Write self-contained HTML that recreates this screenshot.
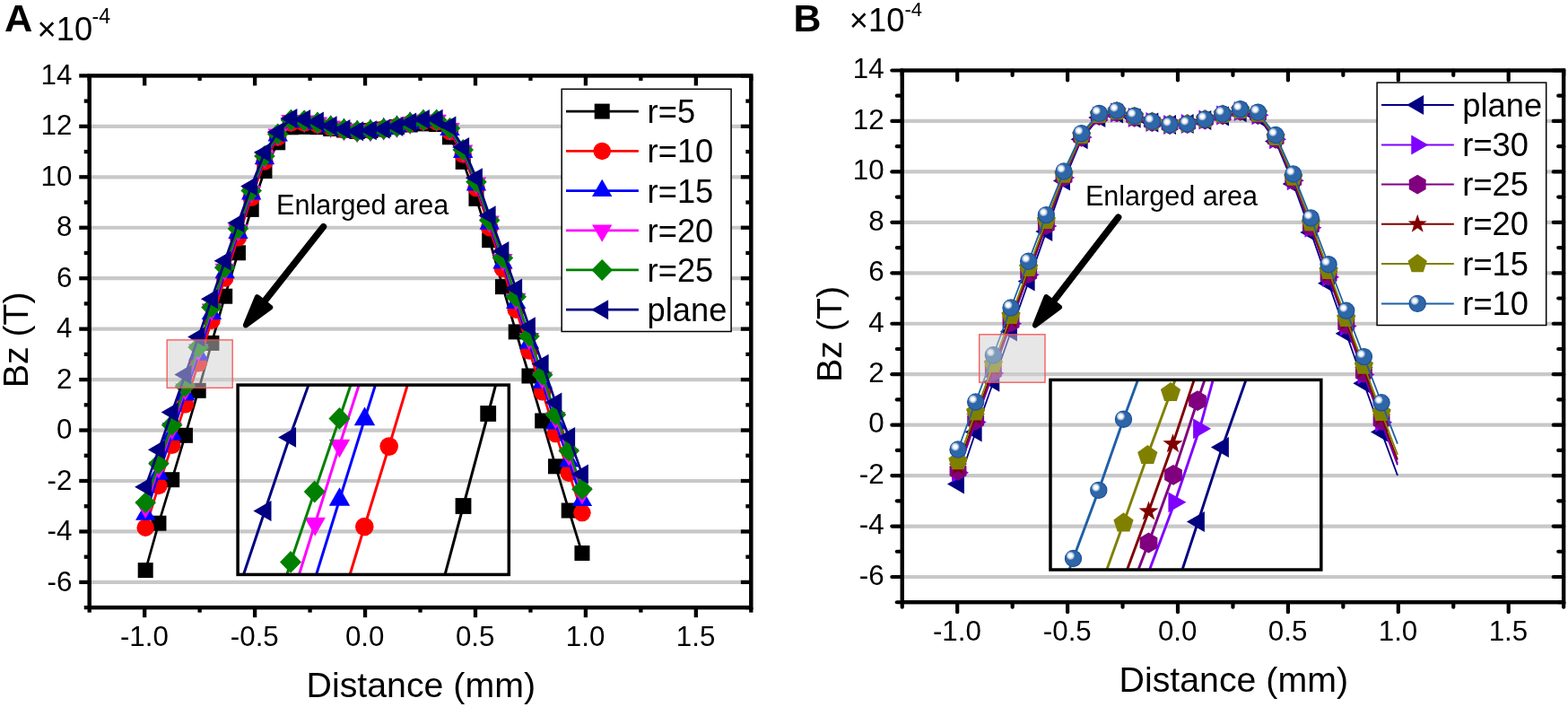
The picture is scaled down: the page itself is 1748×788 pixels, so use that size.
<!DOCTYPE html>
<html lang="en">
<head>
<meta charset="utf-8">
<title>Bz distribution</title>
<style>
html,body{margin:0;padding:0;background:#fff;}
body{width:1748px;height:788px;overflow:hidden;}
svg{display:block;}
text{font-family:"Liberation Sans",sans-serif;}
</style>
</head>
<body>
<svg width="1748" height="788" viewBox="0 0 1748 788" role="img" aria-label="Bz versus distance, panels A and B">
<defs>
<radialGradient id="hl" cx="0.5" cy="0.5" r="0.5">
<stop offset="0" stop-color="#ffffff" stop-opacity="1"/>
<stop offset="0.38" stop-color="#ffffff" stop-opacity="1"/>
<stop offset="0.75" stop-color="#ffffff" stop-opacity="0.55"/>
<stop offset="1" stop-color="#ffffff" stop-opacity="0"/>
</radialGradient>

<clipPath id="clipA"><rect x="263.2" y="427.2" width="305.9" height="215.0"/></clipPath>
<clipPath id="clipB"><rect x="1169.2" y="421.6" width="305.4" height="215.2"/></clipPath>
</defs>
<rect x="0" y="0" width="1748" height="788" fill="#ffffff"/>

<!-- Panel A -->
<line x1="99.70" x2="837.31" y1="648.90" y2="648.90" stroke="#c8c8c8" stroke-width="4.2"/>
<line x1="99.70" x2="837.31" y1="592.45" y2="592.45" stroke="#c8c8c8" stroke-width="4.2"/>
<line x1="99.70" x2="837.31" y1="536.00" y2="536.00" stroke="#c8c8c8" stroke-width="4.2"/>
<line x1="99.70" x2="837.31" y1="479.55" y2="479.55" stroke="#c8c8c8" stroke-width="4.2"/>
<line x1="99.70" x2="837.31" y1="423.10" y2="423.10" stroke="#c8c8c8" stroke-width="4.2"/>
<line x1="99.70" x2="837.31" y1="366.65" y2="366.65" stroke="#c8c8c8" stroke-width="4.2"/>
<line x1="99.70" x2="837.31" y1="310.20" y2="310.20" stroke="#c8c8c8" stroke-width="4.2"/>
<line x1="99.70" x2="837.31" y1="253.75" y2="253.75" stroke="#c8c8c8" stroke-width="4.2"/>
<line x1="99.70" x2="837.31" y1="197.30" y2="197.30" stroke="#c8c8c8" stroke-width="4.2"/>
<line x1="99.70" x2="837.31" y1="140.85" y2="140.85" stroke="#c8c8c8" stroke-width="4.2"/>
<g>
<polyline points="162.20,635.60 176.95,583.20 191.70,534.70 206.45,485.30 221.20,435.30 235.95,382.40 250.70,330.20 265.45,281.80 280.20,233.40 294.95,190.50 309.70,158.80 324.45,141.80 339.20,141.40 353.95,141.70 368.70,143.50 383.45,145.00 398.20,146.50 412.95,145.50 427.70,144.00 442.45,141.50 457.20,139.00 471.95,137.90 486.70,138.50 501.45,152.80 516.20,180.40 530.95,221.40 545.70,267.70 560.45,319.60 575.20,369.90 589.95,419.00 604.70,469.00 619.45,519.80 634.20,569.00 648.95,616.50" fill="none" stroke="#000000" stroke-width="2.7" stroke-linejoin="round"/>
<rect x="153.70" y="627.10" width="17" height="17" fill="#000000"/><rect x="168.45" y="574.70" width="17" height="17" fill="#000000"/><rect x="183.20" y="526.20" width="17" height="17" fill="#000000"/><rect x="197.95" y="476.80" width="17" height="17" fill="#000000"/><rect x="212.70" y="426.80" width="17" height="17" fill="#000000"/><rect x="227.45" y="373.90" width="17" height="17" fill="#000000"/><rect x="242.20" y="321.70" width="17" height="17" fill="#000000"/><rect x="256.95" y="273.30" width="17" height="17" fill="#000000"/><rect x="271.70" y="224.90" width="17" height="17" fill="#000000"/><rect x="286.45" y="182.00" width="17" height="17" fill="#000000"/><rect x="301.20" y="150.30" width="17" height="17" fill="#000000"/><rect x="315.95" y="133.30" width="17" height="17" fill="#000000"/><rect x="330.70" y="132.90" width="17" height="17" fill="#000000"/><rect x="345.45" y="133.20" width="17" height="17" fill="#000000"/><rect x="360.20" y="135.00" width="17" height="17" fill="#000000"/><rect x="374.95" y="136.50" width="17" height="17" fill="#000000"/><rect x="389.70" y="138.00" width="17" height="17" fill="#000000"/><rect x="404.45" y="137.00" width="17" height="17" fill="#000000"/><rect x="419.20" y="135.50" width="17" height="17" fill="#000000"/><rect x="433.95" y="133.00" width="17" height="17" fill="#000000"/><rect x="448.70" y="130.50" width="17" height="17" fill="#000000"/><rect x="463.45" y="129.40" width="17" height="17" fill="#000000"/><rect x="478.20" y="130.00" width="17" height="17" fill="#000000"/><rect x="492.95" y="144.30" width="17" height="17" fill="#000000"/><rect x="507.70" y="171.90" width="17" height="17" fill="#000000"/><rect x="522.45" y="212.90" width="17" height="17" fill="#000000"/><rect x="537.20" y="259.20" width="17" height="17" fill="#000000"/><rect x="551.95" y="311.10" width="17" height="17" fill="#000000"/><rect x="566.70" y="361.40" width="17" height="17" fill="#000000"/><rect x="581.45" y="410.50" width="17" height="17" fill="#000000"/><rect x="596.20" y="460.50" width="17" height="17" fill="#000000"/><rect x="610.95" y="511.30" width="17" height="17" fill="#000000"/><rect x="625.70" y="560.50" width="17" height="17" fill="#000000"/><rect x="640.45" y="608.00" width="17" height="17" fill="#000000"/>
</g>
<g>
<polyline points="162.20,588.22 176.95,541.38 191.70,496.30 206.45,450.77 221.20,404.85 235.95,357.31 250.70,310.06 265.45,264.82 280.20,220.24 294.95,180.04 309.70,152.94 324.45,136.80 339.20,137.12 353.95,138.54 368.70,141.82 383.45,144.49 398.20,146.40 412.95,145.40 427.70,143.85 442.45,141.19 457.20,137.67 471.95,135.40 486.70,135.54 501.45,146.58 516.20,172.04 530.95,209.62 545.70,253.73 560.45,299.40 575.20,345.22 589.95,391.10 604.70,436.77 619.45,483.49 634.20,527.18 648.95,571.62" fill="none" stroke="#ff0000" stroke-width="2.7" stroke-linejoin="round"/>
<circle cx="162.20" cy="588.22" r="9.75" fill="#ff0000"/><circle cx="176.95" cy="541.38" r="9.75" fill="#ff0000"/><circle cx="191.70" cy="496.30" r="9.75" fill="#ff0000"/><circle cx="206.45" cy="450.77" r="9.75" fill="#ff0000"/><circle cx="221.20" cy="404.85" r="9.75" fill="#ff0000"/><circle cx="235.95" cy="357.31" r="9.75" fill="#ff0000"/><circle cx="250.70" cy="310.06" r="9.75" fill="#ff0000"/><circle cx="265.45" cy="264.82" r="9.75" fill="#ff0000"/><circle cx="280.20" cy="220.24" r="9.75" fill="#ff0000"/><circle cx="294.95" cy="180.04" r="9.75" fill="#ff0000"/><circle cx="309.70" cy="152.94" r="9.75" fill="#ff0000"/><circle cx="324.45" cy="136.80" r="9.75" fill="#ff0000"/><circle cx="339.20" cy="137.12" r="9.75" fill="#ff0000"/><circle cx="353.95" cy="138.54" r="9.75" fill="#ff0000"/><circle cx="368.70" cy="141.82" r="9.75" fill="#ff0000"/><circle cx="383.45" cy="144.49" r="9.75" fill="#ff0000"/><circle cx="398.20" cy="146.40" r="9.75" fill="#ff0000"/><circle cx="412.95" cy="145.40" r="9.75" fill="#ff0000"/><circle cx="427.70" cy="143.85" r="9.75" fill="#ff0000"/><circle cx="442.45" cy="141.19" r="9.75" fill="#ff0000"/><circle cx="457.20" cy="137.67" r="9.75" fill="#ff0000"/><circle cx="471.95" cy="135.40" r="9.75" fill="#ff0000"/><circle cx="486.70" cy="135.54" r="9.75" fill="#ff0000"/><circle cx="501.45" cy="146.58" r="9.75" fill="#ff0000"/><circle cx="516.20" cy="172.04" r="9.75" fill="#ff0000"/><circle cx="530.95" cy="209.62" r="9.75" fill="#ff0000"/><circle cx="545.70" cy="253.73" r="9.75" fill="#ff0000"/><circle cx="560.45" cy="299.40" r="9.75" fill="#ff0000"/><circle cx="575.20" cy="345.22" r="9.75" fill="#ff0000"/><circle cx="589.95" cy="391.10" r="9.75" fill="#ff0000"/><circle cx="604.70" cy="436.77" r="9.75" fill="#ff0000"/><circle cx="619.45" cy="483.49" r="9.75" fill="#ff0000"/><circle cx="634.20" cy="527.18" r="9.75" fill="#ff0000"/><circle cx="648.95" cy="571.62" r="9.75" fill="#ff0000"/>
</g>
<g>
<polyline points="162.20,573.36 176.95,528.26 191.70,484.25 206.45,439.94 221.20,395.30 235.95,349.44 250.70,303.74 265.45,259.49 280.20,216.11 294.95,176.76 309.70,151.09 324.45,135.23 339.20,135.77 353.95,137.55 368.70,141.29 383.45,144.33 398.20,146.37 412.95,145.37 427.70,143.80 442.45,141.10 457.20,137.26 471.95,134.62 486.70,134.61 501.45,144.63 516.20,169.41 530.95,205.92 545.70,249.34 560.45,293.07 575.20,337.47 589.95,382.35 604.70,426.66 619.45,472.10 634.20,514.06 648.95,557.54" fill="none" stroke="#0000ff" stroke-width="2.7" stroke-linejoin="round"/>
<polygon points="162.20,560.42 173.40,579.82 151.00,579.82" fill="#0000ff"/><polygon points="176.95,515.33 188.15,534.73 165.75,534.73" fill="#0000ff"/><polygon points="191.70,471.32 202.90,490.72 180.50,490.72" fill="#0000ff"/><polygon points="206.45,427.01 217.65,446.41 195.25,446.41" fill="#0000ff"/><polygon points="221.20,382.37 232.40,401.77 210.00,401.77" fill="#0000ff"/><polygon points="235.95,336.50 247.15,355.90 224.75,355.90" fill="#0000ff"/><polygon points="250.70,290.80 261.90,310.20 239.50,310.20" fill="#0000ff"/><polygon points="265.45,246.56 276.65,265.96 254.25,265.96" fill="#0000ff"/><polygon points="280.20,203.18 291.40,222.58 269.00,222.58" fill="#0000ff"/><polygon points="294.95,163.83 306.15,183.23 283.75,183.23" fill="#0000ff"/><polygon points="309.70,138.16 320.90,157.56 298.50,157.56" fill="#0000ff"/><polygon points="324.45,122.30 335.65,141.70 313.25,141.70" fill="#0000ff"/><polygon points="339.20,122.84 350.40,142.24 328.00,142.24" fill="#0000ff"/><polygon points="353.95,124.61 365.15,144.01 342.75,144.01" fill="#0000ff"/><polygon points="368.70,128.36 379.90,147.76 357.50,147.76" fill="#0000ff"/><polygon points="383.45,131.40 394.65,150.80 372.25,150.80" fill="#0000ff"/><polygon points="398.20,133.43 409.40,152.83 387.00,152.83" fill="#0000ff"/><polygon points="412.95,132.43 424.15,151.83 401.75,151.83" fill="#0000ff"/><polygon points="427.70,130.87 438.90,150.27 416.50,150.27" fill="#0000ff"/><polygon points="442.45,128.16 453.65,147.56 431.25,147.56" fill="#0000ff"/><polygon points="457.20,124.32 468.40,143.72 446.00,143.72" fill="#0000ff"/><polygon points="471.95,121.68 483.15,141.08 460.75,141.08" fill="#0000ff"/><polygon points="486.70,121.68 497.90,141.08 475.50,141.08" fill="#0000ff"/><polygon points="501.45,131.69 512.65,151.09 490.25,151.09" fill="#0000ff"/><polygon points="516.20,156.48 527.40,175.88 505.00,175.88" fill="#0000ff"/><polygon points="530.95,192.99 542.15,212.39 519.75,212.39" fill="#0000ff"/><polygon points="545.70,236.41 556.90,255.81 534.50,255.81" fill="#0000ff"/><polygon points="560.45,280.13 571.65,299.53 549.25,299.53" fill="#0000ff"/><polygon points="575.20,324.54 586.40,343.94 564.00,343.94" fill="#0000ff"/><polygon points="589.95,369.42 601.15,388.82 578.75,388.82" fill="#0000ff"/><polygon points="604.70,413.72 615.90,433.12 593.50,433.12" fill="#0000ff"/><polygon points="619.45,459.16 630.65,478.56 608.25,478.56" fill="#0000ff"/><polygon points="634.20,501.13 645.40,520.53 623.00,520.53" fill="#0000ff"/><polygon points="648.95,544.61 660.15,564.01 637.75,564.01" fill="#0000ff"/>
</g>
<g>
<polyline points="162.20,565.00 176.95,520.88 191.70,477.47 206.45,433.85 221.20,389.93 235.95,345.01 250.70,300.18 265.45,256.49 280.20,213.79 294.95,174.92 309.70,150.06 324.45,134.35 339.20,135.02 353.95,136.99 368.70,140.99 383.45,144.24 398.20,146.35 412.95,145.35 427.70,143.77 442.45,141.04 457.20,137.02 471.95,134.18 486.70,134.09 501.45,143.53 516.20,167.94 530.95,203.84 545.70,246.88 560.45,289.50 575.20,333.12 589.95,377.43 604.70,420.97 619.45,465.69 634.20,506.68 648.95,549.62" fill="none" stroke="#ff00ff" stroke-width="2.7" stroke-linejoin="round"/>
<polygon points="162.20,577.93 173.40,558.53 151.00,558.53" fill="#ff00ff"/><polygon points="176.95,533.81 188.15,514.41 165.75,514.41" fill="#ff00ff"/><polygon points="191.70,490.41 202.90,471.01 180.50,471.01" fill="#ff00ff"/><polygon points="206.45,446.78 217.65,427.38 195.25,427.38" fill="#ff00ff"/><polygon points="221.20,402.86 232.40,383.46 210.00,383.46" fill="#ff00ff"/><polygon points="235.95,357.94 247.15,338.54 224.75,338.54" fill="#ff00ff"/><polygon points="250.70,313.11 261.90,293.71 239.50,293.71" fill="#ff00ff"/><polygon points="265.45,269.43 276.65,250.03 254.25,250.03" fill="#ff00ff"/><polygon points="280.20,226.73 291.40,207.33 269.00,207.33" fill="#ff00ff"/><polygon points="294.95,187.85 306.15,168.45 283.75,168.45" fill="#ff00ff"/><polygon points="309.70,162.99 320.90,143.59 298.50,143.59" fill="#ff00ff"/><polygon points="324.45,147.29 335.65,127.89 313.25,127.89" fill="#ff00ff"/><polygon points="339.20,147.95 350.40,128.55 328.00,128.55" fill="#ff00ff"/><polygon points="353.95,149.92 365.15,130.52 342.75,130.52" fill="#ff00ff"/><polygon points="368.70,153.93 379.90,134.53 357.50,134.53" fill="#ff00ff"/><polygon points="383.45,157.17 394.65,137.77 372.25,137.77" fill="#ff00ff"/><polygon points="398.20,159.28 409.40,139.88 387.00,139.88" fill="#ff00ff"/><polygon points="412.95,158.28 424.15,138.88 401.75,138.88" fill="#ff00ff"/><polygon points="427.70,156.71 438.90,137.31 416.50,137.31" fill="#ff00ff"/><polygon points="442.45,153.98 453.65,134.58 431.25,134.58" fill="#ff00ff"/><polygon points="457.20,149.96 468.40,130.56 446.00,130.56" fill="#ff00ff"/><polygon points="471.95,147.11 483.15,127.71 460.75,127.71" fill="#ff00ff"/><polygon points="486.70,147.03 497.90,127.63 475.50,127.63" fill="#ff00ff"/><polygon points="501.45,156.46 512.65,137.06 490.25,137.06" fill="#ff00ff"/><polygon points="516.20,180.87 527.40,161.47 505.00,161.47" fill="#ff00ff"/><polygon points="530.95,216.78 542.15,197.38 519.75,197.38" fill="#ff00ff"/><polygon points="545.70,259.81 556.90,240.41 534.50,240.41" fill="#ff00ff"/><polygon points="560.45,302.44 571.65,283.04 549.25,283.04" fill="#ff00ff"/><polygon points="575.20,346.05 586.40,326.65 564.00,326.65" fill="#ff00ff"/><polygon points="589.95,390.36 601.15,370.96 578.75,370.96" fill="#ff00ff"/><polygon points="604.70,433.90 615.90,414.50 593.50,414.50" fill="#ff00ff"/><polygon points="619.45,478.62 630.65,459.22 608.25,459.22" fill="#ff00ff"/><polygon points="634.20,519.61 645.40,500.21 623.00,500.21" fill="#ff00ff"/><polygon points="648.95,562.55 660.15,543.15 637.75,543.15" fill="#ff00ff"/>
</g>
<g>
<polyline points="162.20,560.35 176.95,516.78 191.70,473.71 206.45,430.46 221.20,386.94 235.95,342.55 250.70,298.20 265.45,254.83 280.20,212.50 294.95,173.90 309.70,149.49 324.45,133.86 339.20,134.60 353.95,136.68 368.70,140.83 383.45,144.19 398.20,146.34 412.95,145.34 427.70,143.76 442.45,141.01 457.20,136.89 471.95,133.93 486.70,133.80 501.45,142.92 516.20,167.12 530.95,202.69 545.70,245.51 560.45,287.52 575.20,330.70 589.95,374.69 604.70,417.81 619.45,462.13 634.20,502.58 648.95,545.22" fill="none" stroke="#008000" stroke-width="2.7" stroke-linejoin="round"/>
<polygon points="162.20,548.35 174.00,560.35 162.20,572.35 150.40,560.35" fill="#008000"/><polygon points="176.95,504.78 188.75,516.78 176.95,528.78 165.15,516.78" fill="#008000"/><polygon points="191.70,461.71 203.50,473.71 191.70,485.71 179.90,473.71" fill="#008000"/><polygon points="206.45,418.46 218.25,430.46 206.45,442.46 194.65,430.46" fill="#008000"/><polygon points="221.20,374.94 233.00,386.94 221.20,398.94 209.40,386.94" fill="#008000"/><polygon points="235.95,330.55 247.75,342.55 235.95,354.55 224.15,342.55" fill="#008000"/><polygon points="250.70,286.20 262.50,298.20 250.70,310.20 238.90,298.20" fill="#008000"/><polygon points="265.45,242.83 277.25,254.83 265.45,266.83 253.65,254.83" fill="#008000"/><polygon points="280.20,200.50 292.00,212.50 280.20,224.50 268.40,212.50" fill="#008000"/><polygon points="294.95,161.90 306.75,173.90 294.95,185.90 283.15,173.90" fill="#008000"/><polygon points="309.70,137.49 321.50,149.49 309.70,161.49 297.90,149.49" fill="#008000"/><polygon points="324.45,121.86 336.25,133.86 324.45,145.86 312.65,133.86" fill="#008000"/><polygon points="339.20,122.60 351.00,134.60 339.20,146.60 327.40,134.60" fill="#008000"/><polygon points="353.95,124.68 365.75,136.68 353.95,148.68 342.15,136.68" fill="#008000"/><polygon points="368.70,128.83 380.50,140.83 368.70,152.83 356.90,140.83" fill="#008000"/><polygon points="383.45,132.19 395.25,144.19 383.45,156.19 371.65,144.19" fill="#008000"/><polygon points="398.20,134.34 410.00,146.34 398.20,158.34 386.40,146.34" fill="#008000"/><polygon points="412.95,133.34 424.75,145.34 412.95,157.34 401.15,145.34" fill="#008000"/><polygon points="427.70,131.76 439.50,143.76 427.70,155.76 415.90,143.76" fill="#008000"/><polygon points="442.45,129.01 454.25,141.01 442.45,153.01 430.65,141.01" fill="#008000"/><polygon points="457.20,124.89 469.00,136.89 457.20,148.89 445.40,136.89" fill="#008000"/><polygon points="471.95,121.93 483.75,133.93 471.95,145.93 460.15,133.93" fill="#008000"/><polygon points="486.70,121.80 498.50,133.80 486.70,145.80 474.90,133.80" fill="#008000"/><polygon points="501.45,130.92 513.25,142.92 501.45,154.92 489.65,142.92" fill="#008000"/><polygon points="516.20,155.12 528.00,167.12 516.20,179.12 504.40,167.12" fill="#008000"/><polygon points="530.95,190.69 542.75,202.69 530.95,214.69 519.15,202.69" fill="#008000"/><polygon points="545.70,233.51 557.50,245.51 545.70,257.51 533.90,245.51" fill="#008000"/><polygon points="560.45,275.52 572.25,287.52 560.45,299.52 548.65,287.52" fill="#008000"/><polygon points="575.20,318.70 587.00,330.70 575.20,342.70 563.40,330.70" fill="#008000"/><polygon points="589.95,362.69 601.75,374.69 589.95,386.69 578.15,374.69" fill="#008000"/><polygon points="604.70,405.81 616.50,417.81 604.70,429.81 592.90,417.81" fill="#008000"/><polygon points="619.45,450.13 631.25,462.13 619.45,474.13 607.65,462.13" fill="#008000"/><polygon points="634.20,490.58 646.00,502.58 634.20,514.58 622.40,502.58" fill="#008000"/><polygon points="648.95,533.22 660.75,545.22 648.95,557.22 637.15,545.22" fill="#008000"/>
</g>
<g>
<polyline points="162.20,542.70 176.95,501.20 191.70,459.40 206.45,417.60 221.20,375.60 235.95,333.20 250.70,290.70 265.45,248.50 280.20,207.60 294.95,170.00 309.70,147.30 324.45,132.00 339.20,133.00 353.95,135.50 368.70,140.20 383.45,144.00 398.20,146.30 412.95,145.30 427.70,143.70 442.45,140.90 457.20,136.40 471.95,133.00 486.70,132.70 501.45,140.60 516.20,164.00 530.95,198.30 545.70,240.30 560.45,280.00 575.20,321.50 589.95,364.30 604.70,405.80 619.45,448.60 634.20,487.00 648.95,528.50" fill="none" stroke="#000080" stroke-width="2.7" stroke-linejoin="round"/>
<polygon points="150.13,542.70 169.13,531.70 169.13,553.70" fill="#000080"/><polygon points="164.88,501.20 183.88,490.20 183.88,512.20" fill="#000080"/><polygon points="179.63,459.40 198.63,448.40 198.63,470.40" fill="#000080"/><polygon points="194.38,417.60 213.38,406.60 213.38,428.60" fill="#000080"/><polygon points="209.13,375.60 228.13,364.60 228.13,386.60" fill="#000080"/><polygon points="223.88,333.20 242.88,322.20 242.88,344.20" fill="#000080"/><polygon points="238.63,290.70 257.63,279.70 257.63,301.70" fill="#000080"/><polygon points="253.38,248.50 272.38,237.50 272.38,259.50" fill="#000080"/><polygon points="268.13,207.60 287.13,196.60 287.13,218.60" fill="#000080"/><polygon points="282.88,170.00 301.88,159.00 301.88,181.00" fill="#000080"/><polygon points="297.63,147.30 316.63,136.30 316.63,158.30" fill="#000080"/><polygon points="312.38,132.00 331.38,121.00 331.38,143.00" fill="#000080"/><polygon points="327.13,133.00 346.13,122.00 346.13,144.00" fill="#000080"/><polygon points="341.88,135.50 360.88,124.50 360.88,146.50" fill="#000080"/><polygon points="356.63,140.20 375.63,129.20 375.63,151.20" fill="#000080"/><polygon points="371.38,144.00 390.38,133.00 390.38,155.00" fill="#000080"/><polygon points="386.13,146.30 405.13,135.30 405.13,157.30" fill="#000080"/><polygon points="400.88,145.30 419.88,134.30 419.88,156.30" fill="#000080"/><polygon points="415.63,143.70 434.63,132.70 434.63,154.70" fill="#000080"/><polygon points="430.38,140.90 449.38,129.90 449.38,151.90" fill="#000080"/><polygon points="445.13,136.40 464.13,125.40 464.13,147.40" fill="#000080"/><polygon points="459.88,133.00 478.88,122.00 478.88,144.00" fill="#000080"/><polygon points="474.63,132.70 493.63,121.70 493.63,143.70" fill="#000080"/><polygon points="489.38,140.60 508.38,129.60 508.38,151.60" fill="#000080"/><polygon points="504.13,164.00 523.13,153.00 523.13,175.00" fill="#000080"/><polygon points="518.88,198.30 537.88,187.30 537.88,209.30" fill="#000080"/><polygon points="533.63,240.30 552.63,229.30 552.63,251.30" fill="#000080"/><polygon points="548.38,280.00 567.38,269.00 567.38,291.00" fill="#000080"/><polygon points="563.13,321.50 582.13,310.50 582.13,332.50" fill="#000080"/><polygon points="577.88,364.30 596.88,353.30 596.88,375.30" fill="#000080"/><polygon points="592.63,405.80 611.63,394.80 611.63,416.80" fill="#000080"/><polygon points="607.38,448.60 626.38,437.60 626.38,459.60" fill="#000080"/><polygon points="622.13,487.00 641.13,476.00 641.13,498.00" fill="#000080"/><polygon points="636.88,528.50 655.88,517.50 655.88,539.50" fill="#000080"/>
</g>
<g clip-path="url(#clipA)">
<polyline points="552.60,429.00 544.20,461.00 516.50,564.00 496.00,640.70" fill="none" stroke="#000000" stroke-width="3.0" stroke-linejoin="round"/>
<rect x="535.30" y="452.10" width="17.8" height="17.8" fill="#000000"/><rect x="507.60" y="555.10" width="17.8" height="17.8" fill="#000000"/>
<polyline points="454.30,429.00 433.70,497.60 406.30,587.00 390.00,640.70" fill="none" stroke="#ff0000" stroke-width="3.0" stroke-linejoin="round"/>
<circle cx="433.70" cy="497.60" r="10.3" fill="#ff0000"/><circle cx="406.30" cy="587.00" r="10.3" fill="#ff0000"/>
<polyline points="418.50,429.00 406.50,467.30 378.50,557.00 352.50,640.70" fill="none" stroke="#0000ff" stroke-width="3.0" stroke-linejoin="round"/>
<polygon points="406.50,453.57 418.20,474.17 394.80,474.17" fill="#0000ff"/><polygon points="378.50,543.27 390.20,563.87 366.80,563.87" fill="#0000ff"/>
<polyline points="400.20,429.00 378.50,496.50 351.20,583.70 333.30,640.70" fill="none" stroke="#ff00ff" stroke-width="3.0" stroke-linejoin="round"/>
<polygon points="378.50,510.23 390.20,489.63 366.80,489.63" fill="#ff00ff"/><polygon points="351.20,597.43 362.90,576.83 339.50,576.83" fill="#ff00ff"/>
<polyline points="391.00,429.00 378.40,466.40 350.70,548.00 324.00,626.40 319.80,640.70" fill="none" stroke="#008000" stroke-width="3.0" stroke-linejoin="round"/>
<polygon points="378.40,454.00 390.40,466.40 378.40,478.80 366.40,466.40" fill="#008000"/><polygon points="350.70,535.60 362.70,548.00 350.70,560.40 338.70,548.00" fill="#008000"/><polygon points="324.00,614.00 336.00,626.40 324.00,638.80 312.00,626.40" fill="#008000"/>
<polyline points="344.00,429.00 322.80,487.40 295.20,569.50 271.40,640.70" fill="none" stroke="#000080" stroke-width="3.0" stroke-linejoin="round"/>
<polygon points="310.07,487.40 330.07,476.00 330.07,498.80" fill="#000080"/><polygon points="282.47,569.50 302.47,558.10 302.47,580.90" fill="#000080"/>
</g>
<rect x="265.1" y="429.1" width="302.2" height="211.3" fill="none" stroke="#000" stroke-width="3.5"/>
<rect x="186.2" y="378.9" width="73.0" height="53.4" fill="#d0d0d0" fill-opacity="0.5" stroke="#f74f4f" stroke-opacity="0.9" stroke-width="1.4"/>
<line x1="360.48" y1="252.71" x2="294.01" y2="336.92" stroke="#000" stroke-width="7.5" stroke-linecap="round"/><polygon points="273.86,362.45 286.76,331.21 301.25,342.64" fill="#000" stroke="#000" stroke-width="6.0" stroke-linejoin="round"/>
<text x="308.0" y="238.9" font-size="30.6" font-family="'Liberation Sans', sans-serif" fill="#000">Enlarged area</text>
<rect x="99.70" y="84.40" width="737.61" height="592.73" fill="none" stroke="#000" stroke-width="4.5"/>
<g stroke="#000" stroke-width="4.3" stroke-linecap="butt">
<line x1="99.70" x2="99.70" y1="677.12" y2="682.67"/>
<line x1="99.70" x2="99.70" y1="84.40" y2="89.95"/>
<line x1="161.17" x2="161.17" y1="677.12" y2="688.17"/>
<line x1="161.17" x2="161.17" y1="84.40" y2="95.45"/>
<line x1="222.64" x2="222.64" y1="677.12" y2="682.67"/>
<line x1="222.64" x2="222.64" y1="84.40" y2="89.95"/>
<line x1="284.11" x2="284.11" y1="677.12" y2="688.17"/>
<line x1="284.11" x2="284.11" y1="84.40" y2="95.45"/>
<line x1="345.57" x2="345.57" y1="677.12" y2="682.67"/>
<line x1="345.57" x2="345.57" y1="84.40" y2="89.95"/>
<line x1="407.04" x2="407.04" y1="677.12" y2="688.17"/>
<line x1="407.04" x2="407.04" y1="84.40" y2="95.45"/>
<line x1="468.51" x2="468.51" y1="677.12" y2="682.67"/>
<line x1="468.51" x2="468.51" y1="84.40" y2="89.95"/>
<line x1="529.98" x2="529.98" y1="677.12" y2="688.17"/>
<line x1="529.98" x2="529.98" y1="84.40" y2="95.45"/>
<line x1="591.44" x2="591.44" y1="677.12" y2="682.67"/>
<line x1="591.44" x2="591.44" y1="84.40" y2="89.95"/>
<line x1="652.91" x2="652.91" y1="677.12" y2="688.17"/>
<line x1="652.91" x2="652.91" y1="84.40" y2="95.45"/>
<line x1="714.38" x2="714.38" y1="677.12" y2="682.67"/>
<line x1="714.38" x2="714.38" y1="84.40" y2="89.95"/>
<line x1="775.85" x2="775.85" y1="677.12" y2="688.17"/>
<line x1="775.85" x2="775.85" y1="84.40" y2="95.45"/>
<line x1="837.31" x2="837.31" y1="677.12" y2="682.67"/>
<line x1="837.31" x2="837.31" y1="84.40" y2="89.95"/>
<line x1="99.70" x2="93.75" y1="677.12" y2="677.12"/>
<line x1="837.31" x2="831.36" y1="677.12" y2="677.12"/>
<line x1="99.70" x2="88.25" y1="648.90" y2="648.90"/>
<line x1="837.31" x2="825.86" y1="648.90" y2="648.90"/>
<line x1="99.70" x2="93.75" y1="620.67" y2="620.67"/>
<line x1="837.31" x2="831.36" y1="620.67" y2="620.67"/>
<line x1="99.70" x2="88.25" y1="592.45" y2="592.45"/>
<line x1="837.31" x2="825.86" y1="592.45" y2="592.45"/>
<line x1="99.70" x2="93.75" y1="564.23" y2="564.23"/>
<line x1="837.31" x2="831.36" y1="564.23" y2="564.23"/>
<line x1="99.70" x2="88.25" y1="536.00" y2="536.00"/>
<line x1="837.31" x2="825.86" y1="536.00" y2="536.00"/>
<line x1="99.70" x2="93.75" y1="507.77" y2="507.77"/>
<line x1="837.31" x2="831.36" y1="507.77" y2="507.77"/>
<line x1="99.70" x2="88.25" y1="479.55" y2="479.55"/>
<line x1="837.31" x2="825.86" y1="479.55" y2="479.55"/>
<line x1="99.70" x2="93.75" y1="451.33" y2="451.33"/>
<line x1="837.31" x2="831.36" y1="451.33" y2="451.33"/>
<line x1="99.70" x2="88.25" y1="423.10" y2="423.10"/>
<line x1="837.31" x2="825.86" y1="423.10" y2="423.10"/>
<line x1="99.70" x2="93.75" y1="394.88" y2="394.88"/>
<line x1="837.31" x2="831.36" y1="394.88" y2="394.88"/>
<line x1="99.70" x2="88.25" y1="366.65" y2="366.65"/>
<line x1="837.31" x2="825.86" y1="366.65" y2="366.65"/>
<line x1="99.70" x2="93.75" y1="338.43" y2="338.43"/>
<line x1="837.31" x2="831.36" y1="338.43" y2="338.43"/>
<line x1="99.70" x2="88.25" y1="310.20" y2="310.20"/>
<line x1="837.31" x2="825.86" y1="310.20" y2="310.20"/>
<line x1="99.70" x2="93.75" y1="281.98" y2="281.98"/>
<line x1="837.31" x2="831.36" y1="281.98" y2="281.98"/>
<line x1="99.70" x2="88.25" y1="253.75" y2="253.75"/>
<line x1="837.31" x2="825.86" y1="253.75" y2="253.75"/>
<line x1="99.70" x2="93.75" y1="225.53" y2="225.53"/>
<line x1="837.31" x2="831.36" y1="225.53" y2="225.53"/>
<line x1="99.70" x2="88.25" y1="197.30" y2="197.30"/>
<line x1="837.31" x2="825.86" y1="197.30" y2="197.30"/>
<line x1="99.70" x2="93.75" y1="169.08" y2="169.08"/>
<line x1="837.31" x2="831.36" y1="169.08" y2="169.08"/>
<line x1="99.70" x2="88.25" y1="140.85" y2="140.85"/>
<line x1="837.31" x2="825.86" y1="140.85" y2="140.85"/>
<line x1="99.70" x2="93.75" y1="112.62" y2="112.62"/>
<line x1="837.31" x2="831.36" y1="112.62" y2="112.62"/>
<line x1="99.70" x2="88.25" y1="84.40" y2="84.40"/>
<line x1="837.31" x2="825.86" y1="84.40" y2="84.40"/>
</g>
<rect x="626.2" y="99.3" width="188.9" height="270.2" fill="#fff" stroke="#000" stroke-width="1.5"/>
<line x1="631" x2="711.9" y1="124.1" y2="124.1" stroke="#000000" stroke-width="2.8"/>
<rect x="662.70" y="115.60" width="17" height="17" fill="#000000"/>
<text x="721.6" y="137.1" font-size="36.3" font-family="'Liberation Sans', sans-serif" fill="#000">r=5</text>
<line x1="631" x2="711.9" y1="168.4" y2="168.4" stroke="#ff0000" stroke-width="2.8"/>
<circle cx="671.20" cy="168.40" r="9.75" fill="#ff0000"/>
<text x="721.6" y="181.4" font-size="36.3" font-family="'Liberation Sans', sans-serif" fill="#000">r=10</text>
<line x1="631" x2="711.9" y1="212.6" y2="212.6" stroke="#0000ff" stroke-width="2.8"/>
<polygon points="671.20,199.67 682.40,219.07 660.00,219.07" fill="#0000ff"/>
<text x="721.6" y="225.6" font-size="36.3" font-family="'Liberation Sans', sans-serif" fill="#000">r=15</text>
<line x1="631" x2="711.9" y1="256.9" y2="256.9" stroke="#ff00ff" stroke-width="2.8"/>
<polygon points="671.20,269.83 682.40,250.43 660.00,250.43" fill="#ff00ff"/>
<text x="721.6" y="269.9" font-size="36.3" font-family="'Liberation Sans', sans-serif" fill="#000">r=20</text>
<line x1="631" x2="711.9" y1="300.9" y2="300.9" stroke="#008000" stroke-width="2.8"/>
<polygon points="671.20,288.90 683.00,300.90 671.20,312.90 659.40,300.90" fill="#008000"/>
<text x="721.6" y="313.9" font-size="36.3" font-family="'Liberation Sans', sans-serif" fill="#000">r=25</text>
<line x1="631" x2="711.9" y1="345.2" y2="345.2" stroke="#000080" stroke-width="2.8"/>
<polygon points="659.13,345.20 678.13,334.20 678.13,356.20" fill="#000080"/>
<text x="721.6" y="358.2" font-size="36.3" font-family="'Liberation Sans', sans-serif" fill="#000">plane</text>
<g font-family="'Liberation Sans', sans-serif" font-size="31.3" fill="#000">
<text x="160.87" y="720.00" text-anchor="middle">-1.0</text>
<text x="283.81" y="720.00" text-anchor="middle">-0.5</text>
<text x="406.74" y="720.00" text-anchor="middle">0.0</text>
<text x="529.68" y="720.00" text-anchor="middle">0.5</text>
<text x="652.61" y="720.00" text-anchor="middle">1.0</text>
<text x="775.55" y="720.00" text-anchor="middle">1.5</text>
<text x="80.30" y="658.50" text-anchor="end">-6</text>
<text x="80.30" y="602.05" text-anchor="end">-4</text>
<text x="80.30" y="545.60" text-anchor="end">-2</text>
<text x="80.30" y="489.15" text-anchor="end">0</text>
<text x="80.30" y="432.70" text-anchor="end">2</text>
<text x="80.30" y="376.25" text-anchor="end">4</text>
<text x="80.30" y="319.80" text-anchor="end">6</text>
<text x="80.30" y="263.35" text-anchor="end">8</text>
<text x="80.30" y="206.90" text-anchor="end">10</text>
<text x="80.30" y="150.45" text-anchor="end">12</text>
<text x="80.30" y="94.00" text-anchor="end">14</text>
</g>
<text x="469.3" y="777.3" font-size="39.3" text-anchor="middle" font-family="'Liberation Sans', sans-serif" fill="#000">Distance (mm)</text>
<text transform="translate(30.9,378.8) rotate(-90)" font-size="39.3" text-anchor="middle" font-family="'Liberation Sans', sans-serif" fill="#000">Bz (T)</text>
<text x="4.9" y="35.1" font-size="43.4" font-weight="bold" font-family="'Liberation Sans', sans-serif" fill="#000">A</text>
<text x="41.5" y="44.6" font-size="36.3" font-family="'Liberation Sans', sans-serif" fill="#000">×10</text>
<text x="102.5" y="26.2" font-size="23.2" font-family="'Liberation Sans', sans-serif" fill="#000">-4</text>
<!-- Panel B -->
<line x1="1005.75" x2="1743.15" y1="643.00" y2="643.00" stroke="#c8c8c8" stroke-width="4.2"/>
<line x1="1005.75" x2="1743.15" y1="586.55" y2="586.55" stroke="#c8c8c8" stroke-width="4.2"/>
<line x1="1005.75" x2="1743.15" y1="530.10" y2="530.10" stroke="#c8c8c8" stroke-width="4.2"/>
<line x1="1005.75" x2="1743.15" y1="473.65" y2="473.65" stroke="#c8c8c8" stroke-width="4.2"/>
<line x1="1005.75" x2="1743.15" y1="417.20" y2="417.20" stroke="#c8c8c8" stroke-width="4.2"/>
<line x1="1005.75" x2="1743.15" y1="360.75" y2="360.75" stroke="#c8c8c8" stroke-width="4.2"/>
<line x1="1005.75" x2="1743.15" y1="304.30" y2="304.30" stroke="#c8c8c8" stroke-width="4.2"/>
<line x1="1005.75" x2="1743.15" y1="247.85" y2="247.85" stroke="#c8c8c8" stroke-width="4.2"/>
<line x1="1005.75" x2="1743.15" y1="191.40" y2="191.40" stroke="#c8c8c8" stroke-width="4.2"/>
<line x1="1005.75" x2="1743.15" y1="134.95" y2="134.95" stroke="#c8c8c8" stroke-width="4.2"/>
<g>
<polyline points="1068.00,539.50 1087.67,481.50 1107.34,425.80 1127.01,369.50 1146.68,313.60 1166.35,258.10 1186.02,201.60 1205.69,155.20 1225.36,130.90 1245.03,126.60 1264.70,131.70 1284.37,136.40 1304.04,139.00 1323.71,138.10 1343.38,133.90 1363.05,129.40 1382.72,125.20 1402.39,129.70 1422.06,157.50 1441.73,205.00 1461.40,259.00 1481.07,315.70 1500.74,371.80 1520.41,427.20 1540.08,481.40 1558.00,530.00" fill="none" stroke="#000080" stroke-width="1.8" stroke-linejoin="round"/>
<polygon points="1055.93,539.50 1074.93,528.50 1074.93,550.50" fill="#000080"/><polygon points="1075.60,481.50 1094.60,470.50 1094.60,492.50" fill="#000080"/><polygon points="1095.27,425.80 1114.27,414.80 1114.27,436.80" fill="#000080"/><polygon points="1114.94,369.50 1133.94,358.50 1133.94,380.50" fill="#000080"/><polygon points="1134.61,313.60 1153.61,302.60 1153.61,324.60" fill="#000080"/><polygon points="1154.28,258.10 1173.28,247.10 1173.28,269.10" fill="#000080"/><polygon points="1173.95,201.60 1192.95,190.60 1192.95,212.60" fill="#000080"/><polygon points="1193.62,155.20 1212.62,144.20 1212.62,166.20" fill="#000080"/><polygon points="1213.29,130.90 1232.29,119.90 1232.29,141.90" fill="#000080"/><polygon points="1232.96,126.60 1251.96,115.60 1251.96,137.60" fill="#000080"/><polygon points="1252.63,131.70 1271.63,120.70 1271.63,142.70" fill="#000080"/><polygon points="1272.30,136.40 1291.30,125.40 1291.30,147.40" fill="#000080"/><polygon points="1291.97,139.00 1310.97,128.00 1310.97,150.00" fill="#000080"/><polygon points="1311.64,138.10 1330.64,127.10 1330.64,149.10" fill="#000080"/><polygon points="1331.31,133.90 1350.31,122.90 1350.31,144.90" fill="#000080"/><polygon points="1350.98,129.40 1369.98,118.40 1369.98,140.40" fill="#000080"/><polygon points="1370.65,125.20 1389.65,114.20 1389.65,136.20" fill="#000080"/><polygon points="1390.32,129.70 1409.32,118.70 1409.32,140.70" fill="#000080"/><polygon points="1409.99,157.50 1428.99,146.50 1428.99,168.50" fill="#000080"/><polygon points="1429.66,205.00 1448.66,194.00 1448.66,216.00" fill="#000080"/><polygon points="1449.33,259.00 1468.33,248.00 1468.33,270.00" fill="#000080"/><polygon points="1469.00,315.70 1488.00,304.70 1488.00,326.70" fill="#000080"/><polygon points="1488.67,371.80 1507.67,360.80 1507.67,382.80" fill="#000080"/><polygon points="1508.34,427.20 1527.34,416.20 1527.34,438.20" fill="#000080"/><polygon points="1528.01,481.40 1547.01,470.40 1547.01,492.40" fill="#000080"/>
</g>
<g>
<polyline points="1068.00,526.79 1087.67,470.44 1107.34,415.90 1127.01,360.75 1146.68,306.21 1166.35,252.00 1186.02,198.10 1205.69,153.05 1225.36,129.41 1245.03,125.44 1264.70,130.88 1284.37,136.07 1304.04,139.00 1323.71,138.10 1343.38,133.57 1363.05,128.58 1382.72,124.05 1402.39,128.22 1422.06,155.19 1441.73,201.37 1461.40,253.72 1481.07,308.77 1500.74,363.38 1520.41,417.43 1540.08,470.64 1558.00,518.35" fill="none" stroke="#7f00ff" stroke-width="1.8" stroke-linejoin="round"/>
<polygon points="1080.07,526.79 1061.07,515.79 1061.07,537.79" fill="#7f00ff"/><polygon points="1099.74,470.44 1080.74,459.44 1080.74,481.44" fill="#7f00ff"/><polygon points="1119.41,415.90 1100.41,404.90 1100.41,426.90" fill="#7f00ff"/><polygon points="1139.08,360.75 1120.08,349.75 1120.08,371.75" fill="#7f00ff"/><polygon points="1158.75,306.21 1139.75,295.21 1139.75,317.21" fill="#7f00ff"/><polygon points="1178.42,252.00 1159.42,241.00 1159.42,263.00" fill="#7f00ff"/><polygon points="1198.09,198.10 1179.09,187.10 1179.09,209.10" fill="#7f00ff"/><polygon points="1217.76,153.05 1198.76,142.05 1198.76,164.05" fill="#7f00ff"/><polygon points="1237.43,129.41 1218.43,118.41 1218.43,140.41" fill="#7f00ff"/><polygon points="1257.10,125.44 1238.10,114.44 1238.10,136.44" fill="#7f00ff"/><polygon points="1276.77,130.88 1257.77,119.88 1257.77,141.88" fill="#7f00ff"/><polygon points="1296.44,136.07 1277.44,125.07 1277.44,147.07" fill="#7f00ff"/><polygon points="1316.11,139.00 1297.11,128.00 1297.11,150.00" fill="#7f00ff"/><polygon points="1335.78,138.10 1316.78,127.10 1316.78,149.10" fill="#7f00ff"/><polygon points="1355.45,133.57 1336.45,122.57 1336.45,144.57" fill="#7f00ff"/><polygon points="1375.12,128.58 1356.12,117.58 1356.12,139.58" fill="#7f00ff"/><polygon points="1394.79,124.05 1375.79,113.05 1375.79,135.05" fill="#7f00ff"/><polygon points="1414.46,128.22 1395.46,117.22 1395.46,139.22" fill="#7f00ff"/><polygon points="1434.13,155.19 1415.13,144.19 1415.13,166.19" fill="#7f00ff"/><polygon points="1453.80,201.37 1434.80,190.37 1434.80,212.37" fill="#7f00ff"/><polygon points="1473.47,253.72 1454.47,242.72 1454.47,264.72" fill="#7f00ff"/><polygon points="1493.14,308.77 1474.14,297.77 1474.14,319.77" fill="#7f00ff"/><polygon points="1512.81,363.38 1493.81,352.38 1493.81,374.38" fill="#7f00ff"/><polygon points="1532.48,417.43 1513.48,406.43 1513.48,428.43" fill="#7f00ff"/><polygon points="1552.15,470.64 1533.15,459.64 1533.15,481.64" fill="#7f00ff"/>
</g>
<g>
<polyline points="1068.00,524.87 1087.67,468.77 1107.34,414.40 1127.01,359.43 1146.68,305.09 1166.35,251.07 1186.02,197.57 1205.69,152.73 1225.36,129.19 1245.03,125.27 1264.70,130.75 1284.37,136.02 1304.04,139.00 1323.71,138.10 1343.38,133.52 1363.05,128.45 1382.72,123.87 1402.39,127.99 1422.06,154.84 1441.73,200.82 1461.40,252.92 1481.07,307.72 1500.74,362.11 1520.41,415.95 1540.08,469.01 1558.00,516.59" fill="none" stroke="#800080" stroke-width="1.8" stroke-linejoin="round"/>
<polygon points="1068.00,513.97 1077.44,519.42 1077.44,530.32 1068.00,535.77 1058.56,530.32 1058.56,519.42" fill="#800080"/><polygon points="1087.67,457.87 1097.11,463.32 1097.11,474.22 1087.67,479.67 1078.23,474.22 1078.23,463.32" fill="#800080"/><polygon points="1107.34,403.50 1116.78,408.95 1116.78,419.85 1107.34,425.30 1097.90,419.85 1097.90,408.95" fill="#800080"/><polygon points="1127.01,348.53 1136.45,353.98 1136.45,364.88 1127.01,370.33 1117.57,364.88 1117.57,353.98" fill="#800080"/><polygon points="1146.68,294.19 1156.12,299.64 1156.12,310.54 1146.68,315.99 1137.24,310.54 1137.24,299.64" fill="#800080"/><polygon points="1166.35,240.17 1175.79,245.62 1175.79,256.52 1166.35,261.97 1156.91,256.52 1156.91,245.62" fill="#800080"/><polygon points="1186.02,186.67 1195.46,192.12 1195.46,203.02 1186.02,208.47 1176.58,203.02 1176.58,192.12" fill="#800080"/><polygon points="1205.69,141.83 1215.13,147.28 1215.13,158.18 1205.69,163.63 1196.25,158.18 1196.25,147.28" fill="#800080"/><polygon points="1225.36,118.29 1234.80,123.74 1234.80,134.64 1225.36,140.09 1215.92,134.64 1215.92,123.74" fill="#800080"/><polygon points="1245.03,114.37 1254.47,119.82 1254.47,130.72 1245.03,136.17 1235.59,130.72 1235.59,119.82" fill="#800080"/><polygon points="1264.70,119.85 1274.14,125.30 1274.14,136.20 1264.70,141.65 1255.26,136.20 1255.26,125.30" fill="#800080"/><polygon points="1284.37,125.12 1293.81,130.57 1293.81,141.47 1284.37,146.92 1274.93,141.47 1274.93,130.57" fill="#800080"/><polygon points="1304.04,128.10 1313.48,133.55 1313.48,144.45 1304.04,149.90 1294.60,144.45 1294.60,133.55" fill="#800080"/><polygon points="1323.71,127.20 1333.15,132.65 1333.15,143.55 1323.71,149.00 1314.27,143.55 1314.27,132.65" fill="#800080"/><polygon points="1343.38,122.62 1352.82,128.07 1352.82,138.97 1343.38,144.42 1333.94,138.97 1333.94,128.07" fill="#800080"/><polygon points="1363.05,117.55 1372.49,123.00 1372.49,133.90 1363.05,139.35 1353.61,133.90 1353.61,123.00" fill="#800080"/><polygon points="1382.72,112.97 1392.16,118.42 1392.16,129.32 1382.72,134.77 1373.28,129.32 1373.28,118.42" fill="#800080"/><polygon points="1402.39,117.09 1411.83,122.54 1411.83,133.44 1402.39,138.89 1392.95,133.44 1392.95,122.54" fill="#800080"/><polygon points="1422.06,143.94 1431.50,149.39 1431.50,160.29 1422.06,165.74 1412.62,160.29 1412.62,149.39" fill="#800080"/><polygon points="1441.73,189.92 1451.17,195.37 1451.17,206.27 1441.73,211.72 1432.29,206.27 1432.29,195.37" fill="#800080"/><polygon points="1461.40,242.02 1470.84,247.47 1470.84,258.37 1461.40,263.82 1451.96,258.37 1451.96,247.47" fill="#800080"/><polygon points="1481.07,296.82 1490.51,302.27 1490.51,313.17 1481.07,318.62 1471.63,313.17 1471.63,302.27" fill="#800080"/><polygon points="1500.74,351.21 1510.18,356.66 1510.18,367.56 1500.74,373.01 1491.30,367.56 1491.30,356.66" fill="#800080"/><polygon points="1520.41,405.05 1529.85,410.50 1529.85,421.40 1520.41,426.85 1510.97,421.40 1510.97,410.50" fill="#800080"/><polygon points="1540.08,458.11 1549.52,463.56 1549.52,474.46 1540.08,479.91 1530.64,474.46 1530.64,463.56" fill="#800080"/>
</g>
<g>
<polyline points="1068.00,520.25 1087.67,464.75 1107.34,410.80 1127.01,356.25 1146.68,302.40 1166.35,248.85 1186.02,196.30 1205.69,151.95 1225.36,128.65 1245.03,124.85 1264.70,130.45 1284.37,135.90 1304.04,139.00 1323.71,138.10 1343.38,133.40 1363.05,128.15 1382.72,123.45 1402.39,127.45 1422.06,154.00 1441.73,199.50 1461.40,251.00 1481.07,305.20 1500.74,359.05 1520.41,412.40 1540.08,465.10 1558.00,512.35" fill="none" stroke="#800000" stroke-width="1.8" stroke-linejoin="round"/>
<polygon points="1068.00,509.25 1070.59,516.69 1078.46,516.85 1072.18,521.61 1074.47,529.15 1068.00,524.65 1061.53,529.15 1063.82,521.61 1057.54,516.85 1065.41,516.69" fill="#800000"/><polygon points="1087.67,453.75 1090.26,461.19 1098.13,461.35 1091.85,466.11 1094.14,473.65 1087.67,469.15 1081.20,473.65 1083.49,466.11 1077.21,461.35 1085.08,461.19" fill="#800000"/><polygon points="1107.34,399.80 1109.93,407.24 1117.80,407.40 1111.52,412.16 1113.81,419.70 1107.34,415.20 1100.87,419.70 1103.16,412.16 1096.88,407.40 1104.75,407.24" fill="#800000"/><polygon points="1127.01,345.25 1129.60,352.69 1137.47,352.85 1131.19,357.61 1133.48,365.15 1127.01,360.65 1120.54,365.15 1122.83,357.61 1116.55,352.85 1124.42,352.69" fill="#800000"/><polygon points="1146.68,291.40 1149.27,298.84 1157.14,299.00 1150.86,303.76 1153.15,311.30 1146.68,306.80 1140.21,311.30 1142.50,303.76 1136.22,299.00 1144.09,298.84" fill="#800000"/><polygon points="1166.35,237.85 1168.94,245.29 1176.81,245.45 1170.53,250.21 1172.82,257.75 1166.35,253.25 1159.88,257.75 1162.17,250.21 1155.89,245.45 1163.76,245.29" fill="#800000"/><polygon points="1186.02,185.30 1188.61,192.74 1196.48,192.90 1190.20,197.66 1192.49,205.20 1186.02,200.70 1179.55,205.20 1181.84,197.66 1175.56,192.90 1183.43,192.74" fill="#800000"/><polygon points="1205.69,140.95 1208.28,148.39 1216.15,148.55 1209.87,153.31 1212.16,160.85 1205.69,156.35 1199.22,160.85 1201.51,153.31 1195.23,148.55 1203.10,148.39" fill="#800000"/><polygon points="1225.36,117.65 1227.95,125.09 1235.82,125.25 1229.54,130.01 1231.83,137.55 1225.36,133.05 1218.89,137.55 1221.18,130.01 1214.90,125.25 1222.77,125.09" fill="#800000"/><polygon points="1245.03,113.85 1247.62,121.29 1255.49,121.45 1249.21,126.21 1251.50,133.75 1245.03,129.25 1238.56,133.75 1240.85,126.21 1234.57,121.45 1242.44,121.29" fill="#800000"/><polygon points="1264.70,119.45 1267.29,126.89 1275.16,127.05 1268.88,131.81 1271.17,139.35 1264.70,134.85 1258.23,139.35 1260.52,131.81 1254.24,127.05 1262.11,126.89" fill="#800000"/><polygon points="1284.37,124.90 1286.96,132.34 1294.83,132.50 1288.55,137.26 1290.84,144.80 1284.37,140.30 1277.90,144.80 1280.19,137.26 1273.91,132.50 1281.78,132.34" fill="#800000"/><polygon points="1304.04,128.00 1306.63,135.44 1314.50,135.60 1308.22,140.36 1310.51,147.90 1304.04,143.40 1297.57,147.90 1299.86,140.36 1293.58,135.60 1301.45,135.44" fill="#800000"/><polygon points="1323.71,127.10 1326.30,134.54 1334.17,134.70 1327.89,139.46 1330.18,147.00 1323.71,142.50 1317.24,147.00 1319.53,139.46 1313.25,134.70 1321.12,134.54" fill="#800000"/><polygon points="1343.38,122.40 1345.97,129.84 1353.84,130.00 1347.56,134.76 1349.85,142.30 1343.38,137.80 1336.91,142.30 1339.20,134.76 1332.92,130.00 1340.79,129.84" fill="#800000"/><polygon points="1363.05,117.15 1365.64,124.59 1373.51,124.75 1367.23,129.51 1369.52,137.05 1363.05,132.55 1356.58,137.05 1358.87,129.51 1352.59,124.75 1360.46,124.59" fill="#800000"/><polygon points="1382.72,112.45 1385.31,119.89 1393.18,120.05 1386.90,124.81 1389.19,132.35 1382.72,127.85 1376.25,132.35 1378.54,124.81 1372.26,120.05 1380.13,119.89" fill="#800000"/><polygon points="1402.39,116.45 1404.98,123.89 1412.85,124.05 1406.57,128.81 1408.86,136.35 1402.39,131.85 1395.92,136.35 1398.21,128.81 1391.93,124.05 1399.80,123.89" fill="#800000"/><polygon points="1422.06,143.00 1424.65,150.44 1432.52,150.60 1426.24,155.36 1428.53,162.90 1422.06,158.40 1415.59,162.90 1417.88,155.36 1411.60,150.60 1419.47,150.44" fill="#800000"/><polygon points="1441.73,188.50 1444.32,195.94 1452.19,196.10 1445.91,200.86 1448.20,208.40 1441.73,203.90 1435.26,208.40 1437.55,200.86 1431.27,196.10 1439.14,195.94" fill="#800000"/><polygon points="1461.40,240.00 1463.99,247.44 1471.86,247.60 1465.58,252.36 1467.87,259.90 1461.40,255.40 1454.93,259.90 1457.22,252.36 1450.94,247.60 1458.81,247.44" fill="#800000"/><polygon points="1481.07,294.20 1483.66,301.64 1491.53,301.80 1485.25,306.56 1487.54,314.10 1481.07,309.60 1474.60,314.10 1476.89,306.56 1470.61,301.80 1478.48,301.64" fill="#800000"/><polygon points="1500.74,348.05 1503.33,355.49 1511.20,355.65 1504.92,360.41 1507.21,367.95 1500.74,363.45 1494.27,367.95 1496.56,360.41 1490.28,355.65 1498.15,355.49" fill="#800000"/><polygon points="1520.41,401.40 1523.00,408.84 1530.87,409.00 1524.59,413.76 1526.88,421.30 1520.41,416.80 1513.94,421.30 1516.23,413.76 1509.95,409.00 1517.82,408.84" fill="#800000"/><polygon points="1540.08,454.10 1542.67,461.54 1550.54,461.70 1544.26,466.46 1546.55,474.00 1540.08,469.50 1533.61,474.00 1535.90,466.46 1529.62,461.70 1537.49,461.54" fill="#800000"/>
</g>
<g>
<polyline points="1068.00,514.09 1087.67,459.39 1107.34,406.00 1127.01,352.01 1146.68,298.82 1166.35,245.89 1186.02,194.60 1205.69,150.91 1225.36,127.93 1245.03,124.29 1264.70,130.05 1284.37,135.74 1304.04,139.00 1323.71,138.10 1343.38,133.24 1363.05,127.75 1382.72,122.89 1402.39,126.73 1422.06,152.88 1441.73,197.74 1461.40,248.44 1481.07,301.84 1500.74,354.97 1520.41,407.66 1540.08,459.88 1558.00,506.70" fill="none" stroke="#808000" stroke-width="1.8" stroke-linejoin="round"/>
<polygon points="1068.00,502.89 1078.65,510.63 1074.58,523.15 1061.42,523.15 1057.35,510.63" fill="#808000"/><polygon points="1087.67,448.19 1098.32,455.93 1094.25,468.45 1081.09,468.45 1077.02,455.93" fill="#808000"/><polygon points="1107.34,394.80 1117.99,402.54 1113.92,415.06 1100.76,415.06 1096.69,402.54" fill="#808000"/><polygon points="1127.01,340.81 1137.66,348.55 1133.59,361.07 1120.43,361.07 1116.36,348.55" fill="#808000"/><polygon points="1146.68,287.62 1157.33,295.36 1153.26,307.88 1140.10,307.88 1136.03,295.36" fill="#808000"/><polygon points="1166.35,234.69 1177.00,242.43 1172.93,254.95 1159.77,254.95 1155.70,242.43" fill="#808000"/><polygon points="1186.02,183.40 1196.67,191.14 1192.60,203.66 1179.44,203.66 1175.37,191.14" fill="#808000"/><polygon points="1205.69,139.71 1216.34,147.45 1212.27,159.97 1199.11,159.97 1195.04,147.45" fill="#808000"/><polygon points="1225.36,116.73 1236.01,124.47 1231.94,136.99 1218.78,136.99 1214.71,124.47" fill="#808000"/><polygon points="1245.03,113.09 1255.68,120.83 1251.61,133.35 1238.45,133.35 1234.38,120.83" fill="#808000"/><polygon points="1264.70,118.85 1275.35,126.59 1271.28,139.11 1258.12,139.11 1254.05,126.59" fill="#808000"/><polygon points="1284.37,124.54 1295.02,132.28 1290.95,144.80 1277.79,144.80 1273.72,132.28" fill="#808000"/><polygon points="1304.04,127.80 1314.69,135.54 1310.62,148.06 1297.46,148.06 1293.39,135.54" fill="#808000"/><polygon points="1323.71,126.90 1334.36,134.64 1330.29,147.16 1317.13,147.16 1313.06,134.64" fill="#808000"/><polygon points="1343.38,122.04 1354.03,129.78 1349.96,142.30 1336.80,142.30 1332.73,129.78" fill="#808000"/><polygon points="1363.05,116.55 1373.70,124.29 1369.63,136.81 1356.47,136.81 1352.40,124.29" fill="#808000"/><polygon points="1382.72,111.69 1393.37,119.43 1389.30,131.95 1376.14,131.95 1372.07,119.43" fill="#808000"/><polygon points="1402.39,115.53 1413.04,123.27 1408.97,135.79 1395.81,135.79 1391.74,123.27" fill="#808000"/><polygon points="1422.06,141.68 1432.71,149.42 1428.64,161.94 1415.48,161.94 1411.41,149.42" fill="#808000"/><polygon points="1441.73,186.54 1452.38,194.28 1448.31,206.80 1435.15,206.80 1431.08,194.28" fill="#808000"/><polygon points="1461.40,237.24 1472.05,244.98 1467.98,257.50 1454.82,257.50 1450.75,244.98" fill="#808000"/><polygon points="1481.07,290.64 1491.72,298.38 1487.65,310.90 1474.49,310.90 1470.42,298.38" fill="#808000"/><polygon points="1500.74,343.77 1511.39,351.51 1507.32,364.03 1494.16,364.03 1490.09,351.51" fill="#808000"/><polygon points="1520.41,396.46 1531.06,404.20 1526.99,416.72 1513.83,416.72 1509.76,404.20" fill="#808000"/><polygon points="1540.08,448.68 1550.73,456.42 1546.66,468.94 1533.50,468.94 1529.43,456.42" fill="#808000"/>
</g>
<g>
<polyline points="1068.00,501.00 1087.67,448.00 1107.34,395.80 1127.01,343.00 1146.68,291.20 1166.35,239.60 1186.02,191.00 1205.69,148.70 1225.36,126.40 1245.03,123.10 1264.70,129.20 1284.37,135.40 1304.04,139.00 1323.71,138.10 1343.38,132.90 1363.05,126.90 1382.72,121.70 1402.39,125.20 1422.06,150.50 1441.73,194.00 1461.40,243.00 1481.07,294.70 1500.74,346.30 1520.41,397.60 1540.08,448.80 1558.00,494.70" fill="none" stroke="#1f5fa6" stroke-width="1.8" stroke-linejoin="round"/>
<circle cx="1068.00" cy="501.00" r="9.1" fill="#2e66a8" stroke="#1b519d" stroke-width="1.2"/><circle cx="1064.90" cy="497.90" r="5" fill="url(#hl)"/><circle cx="1087.67" cy="448.00" r="9.1" fill="#2e66a8" stroke="#1b519d" stroke-width="1.2"/><circle cx="1084.57" cy="444.90" r="5" fill="url(#hl)"/><circle cx="1107.34" cy="395.80" r="9.1" fill="#2e66a8" stroke="#1b519d" stroke-width="1.2"/><circle cx="1104.24" cy="392.70" r="5" fill="url(#hl)"/><circle cx="1127.01" cy="343.00" r="9.1" fill="#2e66a8" stroke="#1b519d" stroke-width="1.2"/><circle cx="1123.91" cy="339.90" r="5" fill="url(#hl)"/><circle cx="1146.68" cy="291.20" r="9.1" fill="#2e66a8" stroke="#1b519d" stroke-width="1.2"/><circle cx="1143.58" cy="288.10" r="5" fill="url(#hl)"/><circle cx="1166.35" cy="239.60" r="9.1" fill="#2e66a8" stroke="#1b519d" stroke-width="1.2"/><circle cx="1163.25" cy="236.50" r="5" fill="url(#hl)"/><circle cx="1186.02" cy="191.00" r="9.1" fill="#2e66a8" stroke="#1b519d" stroke-width="1.2"/><circle cx="1182.92" cy="187.90" r="5" fill="url(#hl)"/><circle cx="1205.69" cy="148.70" r="9.1" fill="#2e66a8" stroke="#1b519d" stroke-width="1.2"/><circle cx="1202.59" cy="145.60" r="5" fill="url(#hl)"/><circle cx="1225.36" cy="126.40" r="9.1" fill="#2e66a8" stroke="#1b519d" stroke-width="1.2"/><circle cx="1222.26" cy="123.30" r="5" fill="url(#hl)"/><circle cx="1245.03" cy="123.10" r="9.1" fill="#2e66a8" stroke="#1b519d" stroke-width="1.2"/><circle cx="1241.93" cy="120.00" r="5" fill="url(#hl)"/><circle cx="1264.70" cy="129.20" r="9.1" fill="#2e66a8" stroke="#1b519d" stroke-width="1.2"/><circle cx="1261.60" cy="126.10" r="5" fill="url(#hl)"/><circle cx="1284.37" cy="135.40" r="9.1" fill="#2e66a8" stroke="#1b519d" stroke-width="1.2"/><circle cx="1281.27" cy="132.30" r="5" fill="url(#hl)"/><circle cx="1304.04" cy="139.00" r="9.1" fill="#2e66a8" stroke="#1b519d" stroke-width="1.2"/><circle cx="1300.94" cy="135.90" r="5" fill="url(#hl)"/><circle cx="1323.71" cy="138.10" r="9.1" fill="#2e66a8" stroke="#1b519d" stroke-width="1.2"/><circle cx="1320.61" cy="135.00" r="5" fill="url(#hl)"/><circle cx="1343.38" cy="132.90" r="9.1" fill="#2e66a8" stroke="#1b519d" stroke-width="1.2"/><circle cx="1340.28" cy="129.80" r="5" fill="url(#hl)"/><circle cx="1363.05" cy="126.90" r="9.1" fill="#2e66a8" stroke="#1b519d" stroke-width="1.2"/><circle cx="1359.95" cy="123.80" r="5" fill="url(#hl)"/><circle cx="1382.72" cy="121.70" r="9.1" fill="#2e66a8" stroke="#1b519d" stroke-width="1.2"/><circle cx="1379.62" cy="118.60" r="5" fill="url(#hl)"/><circle cx="1402.39" cy="125.20" r="9.1" fill="#2e66a8" stroke="#1b519d" stroke-width="1.2"/><circle cx="1399.29" cy="122.10" r="5" fill="url(#hl)"/><circle cx="1422.06" cy="150.50" r="9.1" fill="#2e66a8" stroke="#1b519d" stroke-width="1.2"/><circle cx="1418.96" cy="147.40" r="5" fill="url(#hl)"/><circle cx="1441.73" cy="194.00" r="9.1" fill="#2e66a8" stroke="#1b519d" stroke-width="1.2"/><circle cx="1438.63" cy="190.90" r="5" fill="url(#hl)"/><circle cx="1461.40" cy="243.00" r="9.1" fill="#2e66a8" stroke="#1b519d" stroke-width="1.2"/><circle cx="1458.30" cy="239.90" r="5" fill="url(#hl)"/><circle cx="1481.07" cy="294.70" r="9.1" fill="#2e66a8" stroke="#1b519d" stroke-width="1.2"/><circle cx="1477.97" cy="291.60" r="5" fill="url(#hl)"/><circle cx="1500.74" cy="346.30" r="9.1" fill="#2e66a8" stroke="#1b519d" stroke-width="1.2"/><circle cx="1497.64" cy="343.20" r="5" fill="url(#hl)"/><circle cx="1520.41" cy="397.60" r="9.1" fill="#2e66a8" stroke="#1b519d" stroke-width="1.2"/><circle cx="1517.31" cy="394.50" r="5" fill="url(#hl)"/><circle cx="1540.08" cy="448.80" r="9.1" fill="#2e66a8" stroke="#1b519d" stroke-width="1.2"/><circle cx="1536.98" cy="445.70" r="5" fill="url(#hl)"/>
</g>
<g clip-path="url(#clipB)">
<polyline points="1389.00,423.40 1362.60,498.50 1335.60,581.50 1318.00,635.00" fill="none" stroke="#000080" stroke-width="2.9" stroke-linejoin="round"/>
<polygon points="1349.87,498.50 1369.87,487.10 1369.87,509.90" fill="#000080"/><polygon points="1322.87,581.50 1342.87,570.10 1342.87,592.90" fill="#000080"/>
<polyline points="1352.30,423.40 1337.40,477.80 1309.70,559.80 1281.50,635.00" fill="none" stroke="#7f00ff" stroke-width="2.9" stroke-linejoin="round"/>
<polygon points="1350.13,477.80 1330.13,466.40 1330.13,489.20" fill="#7f00ff"/><polygon points="1322.43,559.80 1302.43,548.40 1302.43,571.20" fill="#7f00ff"/>
<polyline points="1343.00,423.40 1335.00,446.70 1308.00,529.30 1280.50,605.00 1269.00,635.00" fill="none" stroke="#800080" stroke-width="2.9" stroke-linejoin="round"/>
<polygon points="1335.00,435.30 1344.87,441.00 1344.87,452.40 1335.00,458.10 1325.13,452.40 1325.13,441.00" fill="#800080"/><polygon points="1308.00,517.90 1317.87,523.60 1317.87,535.00 1308.00,540.70 1298.13,535.00 1298.13,523.60" fill="#800080"/><polygon points="1280.50,593.60 1290.37,599.30 1290.37,610.70 1280.50,616.40 1270.63,610.70 1270.63,599.30" fill="#800080"/>
<polyline points="1331.20,423.40 1307.50,494.80 1280.50,570.00 1256.50,635.00" fill="none" stroke="#800000" stroke-width="2.9" stroke-linejoin="round"/>
<polygon points="1307.50,483.20 1310.20,491.08 1318.53,491.22 1311.87,496.22 1314.32,504.18 1307.50,499.40 1300.68,504.18 1303.13,496.22 1296.47,491.22 1304.80,491.08" fill="#800000"/><polygon points="1280.50,558.40 1283.20,566.28 1291.53,566.42 1284.87,571.42 1287.32,579.38 1280.50,574.60 1273.68,579.38 1276.13,571.42 1269.47,566.42 1277.80,566.28" fill="#800000"/>
<polyline points="1310.00,423.40 1305.00,437.60 1279.30,507.60 1252.50,583.00 1233.80,635.00" fill="none" stroke="#808000" stroke-width="2.9" stroke-linejoin="round"/>
<polygon points="1305.00,425.90 1316.13,433.98 1311.88,447.07 1298.12,447.07 1293.87,433.98" fill="#808000"/><polygon points="1279.30,495.90 1290.43,503.98 1286.18,517.07 1272.42,517.07 1268.17,503.98" fill="#808000"/><polygon points="1252.50,571.30 1263.63,579.38 1259.38,592.47 1245.62,592.47 1241.37,579.38" fill="#808000"/>
<polyline points="1268.50,423.40 1252.50,467.20 1224.80,546.40 1196.50,622.50 1192.00,635.00" fill="none" stroke="#1f5fa6" stroke-width="2.9" stroke-linejoin="round"/>
<circle cx="1252.50" cy="467.20" r="9.1" fill="#2e66a8" stroke="#1b519d" stroke-width="1.2"/><circle cx="1249.40" cy="464.10" r="5" fill="url(#hl)"/><circle cx="1224.80" cy="546.40" r="9.1" fill="#2e66a8" stroke="#1b519d" stroke-width="1.2"/><circle cx="1221.70" cy="543.30" r="5" fill="url(#hl)"/><circle cx="1196.50" cy="622.50" r="9.1" fill="#2e66a8" stroke="#1b519d" stroke-width="1.2"/><circle cx="1193.40" cy="619.40" r="5" fill="url(#hl)"/>
</g>
<rect x="1171" y="423.4" width="301.8" height="211.6" fill="none" stroke="#000" stroke-width="3.5"/>
<rect x="1091.7" y="372.8" width="73.3" height="53.4" fill="#d0d0d0" fill-opacity="0.5" stroke="#f74f4f" stroke-opacity="0.9" stroke-width="1.4"/>
<line x1="1246.60" y1="242.23" x2="1173.69" y2="336.78" stroke="#000" stroke-width="7.5" stroke-linecap="round"/><polygon points="1153.83,362.52 1166.38,331.14 1181.00,342.41" fill="#000" stroke="#000" stroke-width="6.0" stroke-linejoin="round"/>
<text x="1209.9" y="228.9" font-size="30.6" font-family="'Liberation Sans', sans-serif" fill="#000">Enlarged area</text>
<rect x="1005.75" y="78.50" width="737.40" height="592.73" fill="none" stroke="#000" stroke-width="4.4"/>
<g stroke="#000" stroke-width="4.2" stroke-linecap="round">
<line x1="1005.75" x2="1005.75" y1="671.23" y2="676.73"/>
<line x1="1005.75" x2="1005.75" y1="78.50" y2="84.00"/>
<line x1="1067.20" x2="1067.20" y1="671.23" y2="682.23"/>
<line x1="1067.20" x2="1067.20" y1="78.50" y2="89.50"/>
<line x1="1128.65" x2="1128.65" y1="671.23" y2="676.73"/>
<line x1="1128.65" x2="1128.65" y1="78.50" y2="84.00"/>
<line x1="1190.10" x2="1190.10" y1="671.23" y2="682.23"/>
<line x1="1190.10" x2="1190.10" y1="78.50" y2="89.50"/>
<line x1="1251.55" x2="1251.55" y1="671.23" y2="676.73"/>
<line x1="1251.55" x2="1251.55" y1="78.50" y2="84.00"/>
<line x1="1313.00" x2="1313.00" y1="671.23" y2="682.23"/>
<line x1="1313.00" x2="1313.00" y1="78.50" y2="89.50"/>
<line x1="1374.45" x2="1374.45" y1="671.23" y2="676.73"/>
<line x1="1374.45" x2="1374.45" y1="78.50" y2="84.00"/>
<line x1="1435.90" x2="1435.90" y1="671.23" y2="682.23"/>
<line x1="1435.90" x2="1435.90" y1="78.50" y2="89.50"/>
<line x1="1497.35" x2="1497.35" y1="671.23" y2="676.73"/>
<line x1="1497.35" x2="1497.35" y1="78.50" y2="84.00"/>
<line x1="1558.80" x2="1558.80" y1="671.23" y2="682.23"/>
<line x1="1558.80" x2="1558.80" y1="78.50" y2="89.50"/>
<line x1="1620.25" x2="1620.25" y1="671.23" y2="676.73"/>
<line x1="1620.25" x2="1620.25" y1="78.50" y2="84.00"/>
<line x1="1681.70" x2="1681.70" y1="671.23" y2="682.23"/>
<line x1="1681.70" x2="1681.70" y1="78.50" y2="89.50"/>
<line x1="1743.15" x2="1743.15" y1="671.23" y2="676.73"/>
<line x1="1743.15" x2="1743.15" y1="78.50" y2="84.00"/>
<line x1="1005.75" x2="999.85" y1="671.23" y2="671.23"/>
<line x1="1743.15" x2="1737.25" y1="671.23" y2="671.23"/>
<line x1="1005.75" x2="994.35" y1="643.00" y2="643.00"/>
<line x1="1743.15" x2="1731.75" y1="643.00" y2="643.00"/>
<line x1="1005.75" x2="999.85" y1="614.77" y2="614.77"/>
<line x1="1743.15" x2="1737.25" y1="614.77" y2="614.77"/>
<line x1="1005.75" x2="994.35" y1="586.55" y2="586.55"/>
<line x1="1743.15" x2="1731.75" y1="586.55" y2="586.55"/>
<line x1="1005.75" x2="999.85" y1="558.33" y2="558.33"/>
<line x1="1743.15" x2="1737.25" y1="558.33" y2="558.33"/>
<line x1="1005.75" x2="994.35" y1="530.10" y2="530.10"/>
<line x1="1743.15" x2="1731.75" y1="530.10" y2="530.10"/>
<line x1="1005.75" x2="999.85" y1="501.88" y2="501.88"/>
<line x1="1743.15" x2="1737.25" y1="501.88" y2="501.88"/>
<line x1="1005.75" x2="994.35" y1="473.65" y2="473.65"/>
<line x1="1743.15" x2="1731.75" y1="473.65" y2="473.65"/>
<line x1="1005.75" x2="999.85" y1="445.43" y2="445.43"/>
<line x1="1743.15" x2="1737.25" y1="445.43" y2="445.43"/>
<line x1="1005.75" x2="994.35" y1="417.20" y2="417.20"/>
<line x1="1743.15" x2="1731.75" y1="417.20" y2="417.20"/>
<line x1="1005.75" x2="999.85" y1="388.98" y2="388.98"/>
<line x1="1743.15" x2="1737.25" y1="388.98" y2="388.98"/>
<line x1="1005.75" x2="994.35" y1="360.75" y2="360.75"/>
<line x1="1743.15" x2="1731.75" y1="360.75" y2="360.75"/>
<line x1="1005.75" x2="999.85" y1="332.52" y2="332.52"/>
<line x1="1743.15" x2="1737.25" y1="332.52" y2="332.52"/>
<line x1="1005.75" x2="994.35" y1="304.30" y2="304.30"/>
<line x1="1743.15" x2="1731.75" y1="304.30" y2="304.30"/>
<line x1="1005.75" x2="999.85" y1="276.08" y2="276.08"/>
<line x1="1743.15" x2="1737.25" y1="276.08" y2="276.08"/>
<line x1="1005.75" x2="994.35" y1="247.85" y2="247.85"/>
<line x1="1743.15" x2="1731.75" y1="247.85" y2="247.85"/>
<line x1="1005.75" x2="999.85" y1="219.62" y2="219.62"/>
<line x1="1743.15" x2="1737.25" y1="219.62" y2="219.62"/>
<line x1="1005.75" x2="994.35" y1="191.40" y2="191.40"/>
<line x1="1743.15" x2="1731.75" y1="191.40" y2="191.40"/>
<line x1="1005.75" x2="999.85" y1="163.18" y2="163.18"/>
<line x1="1743.15" x2="1737.25" y1="163.18" y2="163.18"/>
<line x1="1005.75" x2="994.35" y1="134.95" y2="134.95"/>
<line x1="1743.15" x2="1731.75" y1="134.95" y2="134.95"/>
<line x1="1005.75" x2="999.85" y1="106.72" y2="106.72"/>
<line x1="1743.15" x2="1737.25" y1="106.72" y2="106.72"/>
<line x1="1005.75" x2="994.35" y1="78.50" y2="78.50"/>
<line x1="1743.15" x2="1731.75" y1="78.50" y2="78.50"/>
</g>
<rect x="1535.1" y="92.1" width="188.6" height="270.4" fill="#fff" stroke="#000" stroke-width="1.5"/>
<line x1="1540" x2="1620.8" y1="117.1" y2="117.1" stroke="#000080" stroke-width="2.0"/>
<polygon points="1568.13,117.10 1587.13,106.10 1587.13,128.10" fill="#000080"/>
<text x="1630.3" y="129.5" font-size="36.3" font-family="'Liberation Sans', sans-serif" fill="#000">plane</text>
<line x1="1540" x2="1620.8" y1="161.4" y2="161.4" stroke="#7f00ff" stroke-width="2.0"/>
<polygon points="1592.27,161.40 1573.27,150.40 1573.27,172.40" fill="#7f00ff"/>
<text x="1630.3" y="173.8" font-size="36.3" font-family="'Liberation Sans', sans-serif" fill="#000">r=30</text>
<line x1="1540" x2="1620.8" y1="205.6" y2="205.6" stroke="#800080" stroke-width="2.0"/>
<polygon points="1580.20,194.70 1589.64,200.15 1589.64,211.05 1580.20,216.50 1570.76,211.05 1570.76,200.15" fill="#800080"/>
<text x="1630.3" y="218.0" font-size="36.3" font-family="'Liberation Sans', sans-serif" fill="#000">r=25</text>
<line x1="1540" x2="1620.8" y1="249.8" y2="249.8" stroke="#800000" stroke-width="2.0"/>
<polygon points="1580.20,238.80 1582.79,246.24 1590.66,246.40 1584.38,251.16 1586.67,258.70 1580.20,254.20 1573.73,258.70 1576.02,251.16 1569.74,246.40 1577.61,246.24" fill="#800000"/>
<text x="1630.3" y="262.2" font-size="36.3" font-family="'Liberation Sans', sans-serif" fill="#000">r=20</text>
<line x1="1540" x2="1620.8" y1="294.1" y2="294.1" stroke="#808000" stroke-width="2.0"/>
<polygon points="1580.20,282.90 1590.85,290.64 1586.78,303.16 1573.62,303.16 1569.55,290.64" fill="#808000"/>
<text x="1630.3" y="306.5" font-size="36.3" font-family="'Liberation Sans', sans-serif" fill="#000">r=15</text>
<line x1="1540" x2="1620.8" y1="338.4" y2="338.4" stroke="#1f5fa6" stroke-width="2.0"/>
<circle cx="1580.20" cy="338.40" r="9.1" fill="#2e66a8" stroke="#1b519d" stroke-width="1.2"/><circle cx="1577.10" cy="335.30" r="5" fill="url(#hl)"/>
<text x="1630.3" y="350.8" font-size="36.3" font-family="'Liberation Sans', sans-serif" fill="#000">r=10</text>
<g font-family="'Liberation Sans', sans-serif" font-size="31.3" fill="#000">
<text x="1066.90" y="713.60" text-anchor="middle">-1.0</text>
<text x="1189.80" y="713.60" text-anchor="middle">-0.5</text>
<text x="1312.70" y="713.60" text-anchor="middle">0.0</text>
<text x="1435.60" y="713.60" text-anchor="middle">0.5</text>
<text x="1558.50" y="713.60" text-anchor="middle">1.0</text>
<text x="1681.40" y="713.60" text-anchor="middle">1.5</text>
<text x="985.60" y="651.80" text-anchor="end">-6</text>
<text x="985.60" y="595.35" text-anchor="end">-4</text>
<text x="985.60" y="538.90" text-anchor="end">-2</text>
<text x="985.60" y="482.45" text-anchor="end">0</text>
<text x="985.60" y="426.00" text-anchor="end">2</text>
<text x="985.60" y="369.55" text-anchor="end">4</text>
<text x="985.60" y="313.10" text-anchor="end">6</text>
<text x="985.60" y="256.65" text-anchor="end">8</text>
<text x="985.60" y="200.20" text-anchor="end">10</text>
<text x="985.60" y="143.75" text-anchor="end">12</text>
<text x="985.60" y="87.30" text-anchor="end">14</text>
</g>
<text x="1375.3" y="771.2" font-size="39.3" text-anchor="middle" font-family="'Liberation Sans', sans-serif" fill="#000">Distance (mm)</text>
<text transform="translate(937.5,372.5) rotate(-90)" font-size="39.3" text-anchor="middle" font-family="'Liberation Sans', sans-serif" fill="#000">Bz (T)</text>
<text x="884.6" y="34.6" font-size="42.8" font-weight="bold" font-family="'Liberation Sans', sans-serif" fill="#000">B</text>
<text x="946.8" y="35.2" font-size="36.3" font-family="'Liberation Sans', sans-serif" fill="#000">×10</text>
<text x="1008.5" y="18.3" font-size="22" font-family="'Liberation Sans', sans-serif" fill="#000">-4</text>
</svg>
</body>
</html>
